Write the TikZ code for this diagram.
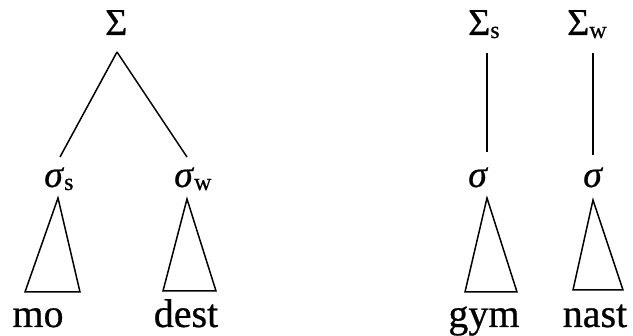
\documentclass[tikz,border=0pt]{standalone}
\usepackage{fontspec}
\setmainfont[FakeBold=0.6]{Liberation Serif}
\usetikzlibrary{positioning,calc}
\tikzset{
  lab/.style={inner sep=0pt, anchor=base, font=\fontsize{40}{44}\selectfont},
  sym/.style={lab, anchor=base west, font=\fontsize{38}{42}\selectfont},
  branch/.style={draw, line width=1.5pt},
  tri/.style={draw, line width=1.5pt, line join=miter},
}
\newcommand{\subs}[1]{\raisebox{-3pt}{\fontsize{24}{26}\selectfont #1}}

\begin{document}
\begin{tikzpicture}[x=1pt, y=-1pt]
\useasboundingbox (0,0) rectangle (633,336);

% ---------------------------------------------------------------- left: mo-dest
\node[sym] (S) at (105,35) {Σ};
\node[sym] (ss) at (44,187) {\textit{σ}\subs{s}};
\node[sym] (sw) at (174,187) {\textit{σ}\subs{w}};
\node[lab] (mo) at (38,327) {mo};
\node[lab] (dest) at (186,327) {dest};

\coordinate (S-foot) at (117,52);
\coordinate (ss-top) at (60,157);
\coordinate (sw-top) at (187,157);
\draw[branch] (S-foot) -- (ss-top);
\draw[branch] (S-foot) -- (sw-top);

\draw[tri] (58,198) -- (80,292) -- (25,292) -- cycle;
\draw[tri] (187,199) -- (216,291) -- (163,291) -- cycle;

% ---------------------------------------------------------------- right: gym-nast
\node[sym] (Ss) at (468,35) {Σ\subs{s}};
\node[sym] (Sw) at (567,35) {Σ\subs{w}};
\node[sym] (s1) at (468,187) {\textit{σ}};
\node[sym] (s2) at (583,187) {\textit{σ}};
\node[lab] (gym) at (484,327) {gym};
\node[lab] (nast) at (595,327) {nast};

\coordinate (Ss-foot) at (487,53);
\coordinate (s1-top) at (487,152);
\coordinate (Sw-foot) at (593,53);
\coordinate (s2-top) at (593,155);
\draw[branch] (Ss-foot) -- (s1-top);
\draw[branch] (Sw-foot) -- (s2-top);

\draw[tri] (487,198) -- (517,292) -- (465,292) -- cycle;
\draw[tri] (593,200) -- (623,290) -- (573,290) -- cycle;

\end{tikzpicture}
\end{document}
